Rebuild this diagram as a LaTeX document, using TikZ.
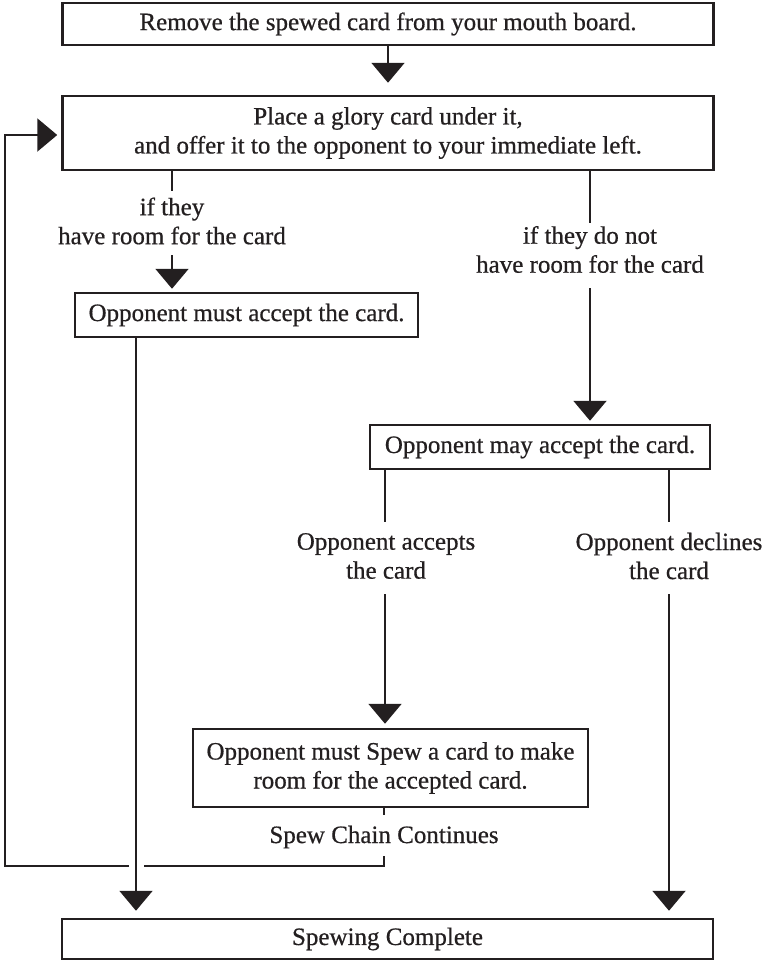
\documentclass[tikz,border=0pt]{standalone}
\usepackage{fontspec}
\setmainfont{Liberation Serif}[FakeBold=0.6]
\newfontfamily\heavy{Liberation Serif}[FakeBold=0.6]
\usetikzlibrary{arrows.meta,calc}
\definecolor{ink}{HTML}{231F20}
\begin{document}
\begin{tikzpicture}[x=1pt,y=-1pt,
  every node/.style={font=\heavy\fontsize{25}{29}\selectfont, text=ink},
  box/.style={draw=ink, line width=2.5pt, fill=white, inner sep=0pt, align=center},
  lbl/.style={inner sep=0pt, align=center},
  conn/.style={draw=ink, line width=2.2pt},
  arr/.style={conn, -{Triangle[width=33pt,length=20pt]}}
]
\useasboundingbox (0,0) rectangle (766,962);

% boxes
\node[box, minimum width=651pt, minimum height=42pt] (b1) at (388,24) {Remove the spewed card from your mouth board.};
\node[box, minimum width=651pt, minimum height=74pt] (b2) at (388,133) {Place a glory card under it,\\and offer it to the opponent to your immediate left.};
\node[box, minimum width=343pt, minimum height=44pt] (b3) at (246.5,315) {Opponent must accept the card.};
\node[box, minimum width=340pt, minimum height=44pt] (b4) at (540,447) {Opponent may accept the card.};
\node[box, minimum width=395pt, minimum height=78pt] (b5) at (390.5,768) {Opponent must Spew a card to make\\room for the accepted card.};
\node[box, minimum width=651pt, minimum height=40pt] (b6) at (387.5,939) {Spewing Complete};

% labels
\node[lbl] (l1) at (172,221) {if they\\have room for the card};
\node[lbl] (l2) at (590,249.5) {if they do not\\have room for the card};
\node[lbl] (l3) at (386,556) {Opponent accepts\\the card};
\node[lbl] (l4) at (669,556) {Opponent declines\\the card};
\node[lbl] (l5) at (384,837) {Spew Chain Continues};

% gap ends
\coordinate (g1a) at (172,191); \coordinate (g1b) at (172,255);
\coordinate (g2a) at (590,223); \coordinate (g2b) at (590,288);
\coordinate (g3a) at (385,522); \coordinate (g3b) at (385,594);
\coordinate (g4a) at (669,522); \coordinate (g4b) at (669,594);
\coordinate (g5a) at (384,815); \coordinate (g5b) at (384,856);
\coordinate (cr1) at (384,866);
\coordinate (cross) at (136,866);
\coordinate (cr2) at (5,866);
\coordinate (cr3) at (5,135);

% connectors
\draw[arr, shorten >=12pt] (b1.south) -- (b2.north);
\draw[conn] (b2.south -| g1a) -- (g1a);
\draw[arr, shorten >=3pt] (g1b) -- (b3.north -| g1b);
\draw[conn] (b2.south -| g2a) -- (g2a);
\draw[arr, shorten >=3pt] (g2b) -- (b4.north -| g2b);
\draw[conn] (b4.south -| g3a) -- (g3a);
\draw[arr, shorten >=4pt] (g3b) -- (b5.north -| g3b);
\draw[conn] (b4.south -| g4a) -- (g4a);
\draw[arr, shorten >=7pt] (g4b) -- (b6.north -| g4b);
\draw[arr, shorten >=7pt] (b3.south -| cross) -- (b6.north -| cross);
\draw[conn] (b5.south -| g5a) -- (g5a);
\draw[conn] (g5b) -- (cr1) -- ([xshift=7.5pt]cross);
\draw[arr, shorten >=4pt] ([xshift=-7.5pt]cross) -- (cr2) -- (cr3) -- (cr3 -| b2.west);
\end{tikzpicture}
\end{document}
